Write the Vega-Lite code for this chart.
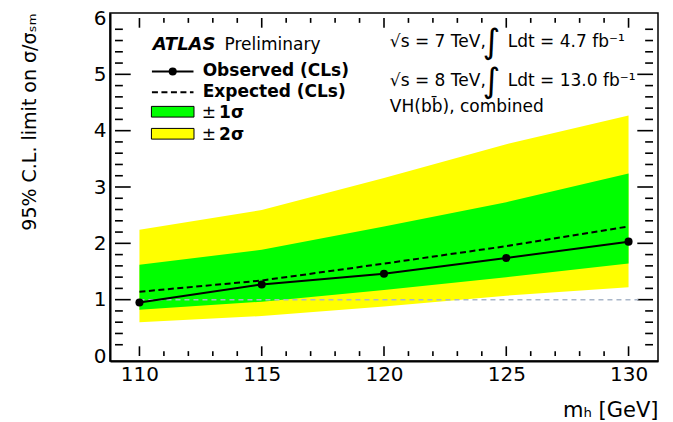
{
  "$schema": "https://vega.github.io/schema/vega-lite/v6.json",
  "width": 548,
  "height": 348,
  "autosize": {"type": "none"},
  "padding": {"left": 110, "top": 13, "right": 15, "bottom": 61},
  "background": "white",
  "config": {
    "view": {"stroke": "black", "strokeWidth": 1.5},
    "font": "DejaVu Sans",
    "axis": {"zindex": 1, "grid": false, "labelFlush": false, "labelOverlap": false}
  },
  "datasets": {
    "limits": [
      {"mass": 110, "obs": 0.95, "exp": 1.14, "m2": 0.60, "m1": 0.82, "p1": 1.62, "p2": 2.24},
      {"mass": 115, "obs": 1.27, "exp": 1.34, "m2": 0.71, "m1": 0.965, "p1": 1.885, "p2": 2.59},
      {"mass": 120, "obs": 1.46, "exp": 1.64, "m2": 0.88, "m1": 1.17, "p1": 2.30, "p2": 3.16},
      {"mass": 125, "obs": 1.74, "exp": 1.95, "m2": 1.07, "m1": 1.40, "p1": 2.73, "p2": 3.76},
      {"mass": 130, "obs": 2.03, "exp": 2.30, "m2": 1.22, "m1": 1.64, "p1": 3.24, "p2": 4.27}
    ],
    "xMajor": [{"m": 110}, {"m": 115}, {"m": 120}, {"m": 125}, {"m": 130}],
    "xMinor": [{"m": 111}, {"m": 112}, {"m": 113}, {"m": 114}, {"m": 116}, {"m": 117}, {"m": 118}, {"m": 119}, {"m": 121}, {"m": 122}, {"m": 123}, {"m": 124}, {"m": 126}, {"m": 127}, {"m": 128}, {"m": 129}],
    "yMajor": [{"v": 1}, {"v": 2}, {"v": 3}, {"v": 4}, {"v": 5}],
    "yMinor": [{"v": 0.2}, {"v": 0.4}, {"v": 0.6}, {"v": 0.8}, {"v": 1.2}, {"v": 1.4}, {"v": 1.6}, {"v": 1.8}, {"v": 2.2}, {"v": 2.4}, {"v": 2.6}, {"v": 2.8}, {"v": 3.2}, {"v": 3.4}, {"v": 3.6}, {"v": 3.8}, {"v": 4.2}, {"v": 4.4}, {"v": 4.6}, {"v": 4.8}, {"v": 5.2}, {"v": 5.4}, {"v": 5.6}, {"v": 5.8}],
    "unity": [{"x": 110, "y": 1}, {"x": 130.4, "y": 1}],
    "legObs": [{"x": 110.51, "y": 5.05}, {"x": 112.21, "y": 5.05}],
    "legDot": [{"x": 111.36, "y": 5.05}],
    "legExp": [{"x": 110.51, "y": 4.684}, {"x": 112.21, "y": 4.684}],
    "legBox": [
      {"x": 110.49, "x2": 112.23, "y": 4.241, "y2": 4.431, "band": "1s"},
      {"x": 110.49, "x2": 112.23, "y": 3.850, "y2": 4.040, "band": "2s"}
    ],
    "txtRegular": [
      {"x": 113.48, "y": 5.431, "t": "Preliminary"},
      {"x": 112.545, "y": 4.224, "t": "±"},
      {"x": 112.545, "y": 3.828, "t": "±"},
      {"x": 120.24, "y": 5.477, "t": "√s = 7 TeV,"},
      {"x": 125.06, "y": 5.477, "t": "Ldt = 4.7 fb⁻¹"},
      {"x": 120.24, "y": 4.787, "t": "√s = 8 TeV,"},
      {"x": 125.06, "y": 4.787, "t": "Ldt = 13.0 fb⁻¹"},
      {"x": 120.24, "y": 4.328, "t": "VH(bb̄), combined"}
    ],
    "txtBold": [
      {"x": 112.585, "y": 4.966, "t": "Observed (CLs)"},
      {"x": 112.585, "y": 4.603, "t": "Expected (CLs)"},
      {"x": 113.255, "y": 4.224, "t": "1σ"},
      {"x": 113.255, "y": 3.828, "t": "2σ"}
    ],
    "txtAtlas": [{"x": 110.54, "y": 5.431, "t": "ATLAS"}],
    "txtInt": [
      {"x": 124.4, "y": 5.552, "t": "∫"},
      {"x": 124.4, "y": 4.862, "t": "∫"}
    ]
  },
  "resolve": {"axis": {"x": "independent", "y": "independent"}},
  "layer": [
    {
      "data": {"name": "limits"},
      "mark": {"type": "area", "color": "#ffff00", "opacity": 1},
      "encoding": {
        "x": {
          "field": "mass", "type": "quantitative",
          "scale": {"domain": [109, 131], "nice": false, "zero": false},
          "axis": {
            "orient": "bottom",
            "values": [110, 115, 120, 125, 130],
            "ticks": false, "tickSize": 0,
            "domainColor": "black", "domainWidth": 2,
            "labelFont": "DejaVu Sans", "labelFontSize": 20, "labelColor": "black", "labelPadding": 3,
            "title": "mₕ [GeV]",
            "titleFont": "DejaVu Sans", "titleFontSize": 21, "titleFontWeight": "normal", "titleColor": "black",
            "titleAlign": "right", "titleBaseline": "alphabetic", "titleX": 548, "titleY": 55
          }
        },
        "y": {
          "field": "m2", "type": "quantitative",
          "scale": {"domain": [0, 6], "nice": false, "zero": false},
          "axis": {
            "orient": "left",
            "values": [0, 1, 2, 3, 4, 5, 6],
            "format": "d",
            "ticks": false, "tickSize": 0,
            "domainColor": "black", "domainWidth": 2,
            "labelFont": "DejaVu Sans", "labelFontSize": 20, "labelColor": "black", "labelPadding": 4,
            "title": "95% C.L. limit on σ/σₛₘ",
            "titleFont": "DejaVu Sans", "titleFontSize": 19, "titleFontWeight": "normal", "titleColor": "black",
            "titleAngle": -90, "titleAlign": "right", "titleBaseline": "alphabetic", "titleX": -75, "titleY": 0
          }
        },
        "y2": {"field": "p2"}
      }
    },
    {
      "data": {"name": "limits"},
      "mark": {"type": "area", "color": "#00ff00", "opacity": 1},
      "encoding": {
        "x": {"field": "mass", "type": "quantitative", "scale": {"domain": [109, 131], "nice": false, "zero": false}, "axis": null},
        "y": {"field": "m1", "type": "quantitative", "scale": {"domain": [0, 6], "nice": false, "zero": false}, "axis": null},
        "y2": {"field": "p1"}
      }
    },
    {
      "data": {"name": "xMajor"},
      "mark": {"type": "bar", "color": "black", "width": 1.6, "opacity": 1},
      "encoding": {
        "x": {"field": "m", "type": "quantitative", "scale": {"domain": [109, 131], "nice": false, "zero": false}, "axis": null},
        "y": {"datum": 0, "type": "quantitative", "scale": {"domain": [0, 6], "nice": false, "zero": false}, "axis": null},
        "y2": {"datum": 0.1724}
      }
    },
    {
      "data": {"name": "xMajor"},
      "mark": {"type": "bar", "color": "black", "width": 1.6, "opacity": 1},
      "encoding": {
        "x": {"field": "m", "type": "quantitative", "scale": {"domain": [109, 131], "nice": false, "zero": false}, "axis": null},
        "y": {"datum": 5.8276, "type": "quantitative", "scale": {"domain": [0, 6], "nice": false, "zero": false}, "axis": null},
        "y2": {"datum": 6}
      }
    },
    {
      "data": {"name": "xMinor"},
      "mark": {"type": "bar", "color": "black", "width": 1.6, "opacity": 1},
      "encoding": {
        "x": {"field": "m", "type": "quantitative", "scale": {"domain": [109, 131], "nice": false, "zero": false}, "axis": null},
        "y": {"datum": 0, "type": "quantitative", "scale": {"domain": [0, 6], "nice": false, "zero": false}, "axis": null},
        "y2": {"datum": 0.0862}
      }
    },
    {
      "data": {"name": "xMinor"},
      "mark": {"type": "bar", "color": "black", "width": 1.6, "opacity": 1},
      "encoding": {
        "x": {"field": "m", "type": "quantitative", "scale": {"domain": [109, 131], "nice": false, "zero": false}, "axis": null},
        "y": {"datum": 5.9138, "type": "quantitative", "scale": {"domain": [0, 6], "nice": false, "zero": false}, "axis": null},
        "y2": {"datum": 6}
      }
    },
    {
      "data": {"name": "yMajor"},
      "mark": {"type": "bar", "color": "black", "height": 1.6, "opacity": 1},
      "encoding": {
        "y": {"field": "v", "type": "quantitative", "scale": {"domain": [0, 6], "nice": false, "zero": false}, "axis": null},
        "x": {"datum": 109, "type": "quantitative", "scale": {"domain": [109, 131], "nice": false, "zero": false}, "axis": null},
        "x2": {"datum": 109.642}
      }
    },
    {
      "data": {"name": "yMajor"},
      "mark": {"type": "bar", "color": "black", "height": 1.6, "opacity": 1},
      "encoding": {
        "y": {"field": "v", "type": "quantitative", "scale": {"domain": [0, 6], "nice": false, "zero": false}, "axis": null},
        "x": {"datum": 130.358, "type": "quantitative", "scale": {"domain": [109, 131], "nice": false, "zero": false}, "axis": null},
        "x2": {"datum": 131}
      }
    },
    {
      "data": {"name": "yMinor"},
      "mark": {"type": "bar", "color": "black", "height": 1.6, "opacity": 1},
      "encoding": {
        "y": {"field": "v", "type": "quantitative", "scale": {"domain": [0, 6], "nice": false, "zero": false}, "axis": null},
        "x": {"datum": 109, "type": "quantitative", "scale": {"domain": [109, 131], "nice": false, "zero": false}, "axis": null},
        "x2": {"datum": 109.321}
      }
    },
    {
      "data": {"name": "yMinor"},
      "mark": {"type": "bar", "color": "black", "height": 1.6, "opacity": 1},
      "encoding": {
        "y": {"field": "v", "type": "quantitative", "scale": {"domain": [0, 6], "nice": false, "zero": false}, "axis": null},
        "x": {"datum": 130.679, "type": "quantitative", "scale": {"domain": [109, 131], "nice": false, "zero": false}, "axis": null},
        "x2": {"datum": 131}
      }
    },
    {
      "data": {"name": "unity"},
      "mark": {"type": "line", "color": "#a9b6c9", "strokeWidth": 1.5, "strokeDash": [5, 4]},
      "encoding": {
        "x": {"field": "x", "type": "quantitative", "scale": {"domain": [109, 131], "nice": false, "zero": false}, "axis": null},
        "y": {"field": "y", "type": "quantitative", "scale": {"domain": [0, 6], "nice": false, "zero": false}, "axis": null}
      }
    },
    {
      "data": {"name": "limits"},
      "mark": {"type": "line", "color": "black", "strokeWidth": 2, "strokeDash": [6, 3.5]},
      "encoding": {
        "x": {"field": "mass", "type": "quantitative", "scale": {"domain": [109, 131], "nice": false, "zero": false}, "axis": null},
        "y": {"field": "exp", "type": "quantitative", "scale": {"domain": [0, 6], "nice": false, "zero": false}, "axis": null}
      }
    },
    {
      "data": {"name": "limits"},
      "mark": {"type": "line", "color": "black", "strokeWidth": 2},
      "encoding": {
        "x": {"field": "mass", "type": "quantitative", "scale": {"domain": [109, 131], "nice": false, "zero": false}, "axis": null},
        "y": {"field": "obs", "type": "quantitative", "scale": {"domain": [0, 6], "nice": false, "zero": false}, "axis": null}
      }
    },
    {
      "data": {"name": "limits"},
      "mark": {"type": "circle", "color": "black", "opacity": 1, "size": 65},
      "encoding": {
        "x": {"field": "mass", "type": "quantitative", "scale": {"domain": [109, 131], "nice": false, "zero": false}, "axis": null},
        "y": {"field": "obs", "type": "quantitative", "scale": {"domain": [0, 6], "nice": false, "zero": false}, "axis": null}
      }
    },
    {
      "data": {"name": "legBox"},
      "mark": {"type": "rect", "stroke": "black", "strokeWidth": 1},
      "encoding": {
        "x": {"field": "x", "type": "quantitative", "scale": {"domain": [109, 131], "nice": false, "zero": false}, "axis": null},
        "x2": {"field": "x2"},
        "y": {"field": "y", "type": "quantitative", "scale": {"domain": [0, 6], "nice": false, "zero": false}, "axis": null},
        "y2": {"field": "y2"},
        "fill": {"field": "band", "type": "nominal", "scale": {"domain": ["1s", "2s"], "range": ["#00ff00", "#ffff00"]}, "legend": null}
      }
    },
    {
      "data": {"name": "legObs"},
      "mark": {"type": "line", "color": "black", "strokeWidth": 2},
      "encoding": {
        "x": {"field": "x", "type": "quantitative", "scale": {"domain": [109, 131], "nice": false, "zero": false}, "axis": null},
        "y": {"field": "y", "type": "quantitative", "scale": {"domain": [0, 6], "nice": false, "zero": false}, "axis": null}
      }
    },
    {
      "data": {"name": "legDot"},
      "mark": {"type": "circle", "color": "black", "opacity": 1, "size": 65},
      "encoding": {
        "x": {"field": "x", "type": "quantitative", "scale": {"domain": [109, 131], "nice": false, "zero": false}, "axis": null},
        "y": {"field": "y", "type": "quantitative", "scale": {"domain": [0, 6], "nice": false, "zero": false}, "axis": null}
      }
    },
    {
      "data": {"name": "legExp"},
      "mark": {"type": "line", "color": "black", "strokeWidth": 2, "strokeDash": [6, 3.5]},
      "encoding": {
        "x": {"field": "x", "type": "quantitative", "scale": {"domain": [109, 131], "nice": false, "zero": false}, "axis": null},
        "y": {"field": "y", "type": "quantitative", "scale": {"domain": [0, 6], "nice": false, "zero": false}, "axis": null}
      }
    },
    {
      "data": {"name": "txtRegular"},
      "mark": {"type": "text", "font": "DejaVu Sans", "fontSize": 17, "color": "black", "align": "left", "baseline": "alphabetic"},
      "encoding": {
        "x": {"field": "x", "type": "quantitative", "scale": {"domain": [109, 131], "nice": false, "zero": false}, "axis": null},
        "y": {"field": "y", "type": "quantitative", "scale": {"domain": [0, 6], "nice": false, "zero": false}, "axis": null},
        "text": {"field": "t"}
      }
    },
    {
      "data": {"name": "txtBold"},
      "mark": {"type": "text", "font": "DejaVu Sans", "fontSize": 17, "fontWeight": "bold", "color": "black", "align": "left", "baseline": "alphabetic"},
      "encoding": {
        "x": {"field": "x", "type": "quantitative", "scale": {"domain": [109, 131], "nice": false, "zero": false}, "axis": null},
        "y": {"field": "y", "type": "quantitative", "scale": {"domain": [0, 6], "nice": false, "zero": false}, "axis": null},
        "text": {"field": "t"}
      }
    },
    {
      "data": {"name": "txtAtlas"},
      "mark": {"type": "text", "font": "DejaVu Sans", "fontSize": 18, "fontWeight": "bold", "fontStyle": "italic", "color": "black", "align": "left", "baseline": "alphabetic"},
      "encoding": {
        "x": {"field": "x", "type": "quantitative", "scale": {"domain": [109, 131], "nice": false, "zero": false}, "axis": null},
        "y": {"field": "y", "type": "quantitative", "scale": {"domain": [0, 6], "nice": false, "zero": false}, "axis": null},
        "text": {"field": "t"}
      }
    },
    {
      "data": {"name": "txtInt"},
      "mark": {"type": "text", "font": "DejaVu Sans", "fontSize": 34, "color": "black", "align": "center", "baseline": "middle"},
      "encoding": {
        "x": {"field": "x", "type": "quantitative", "scale": {"domain": [109, 131], "nice": false, "zero": false}, "axis": null},
        "y": {"field": "y", "type": "quantitative", "scale": {"domain": [0, 6], "nice": false, "zero": false}, "axis": null},
        "text": {"field": "t"}
      }
    }
  ]
}
